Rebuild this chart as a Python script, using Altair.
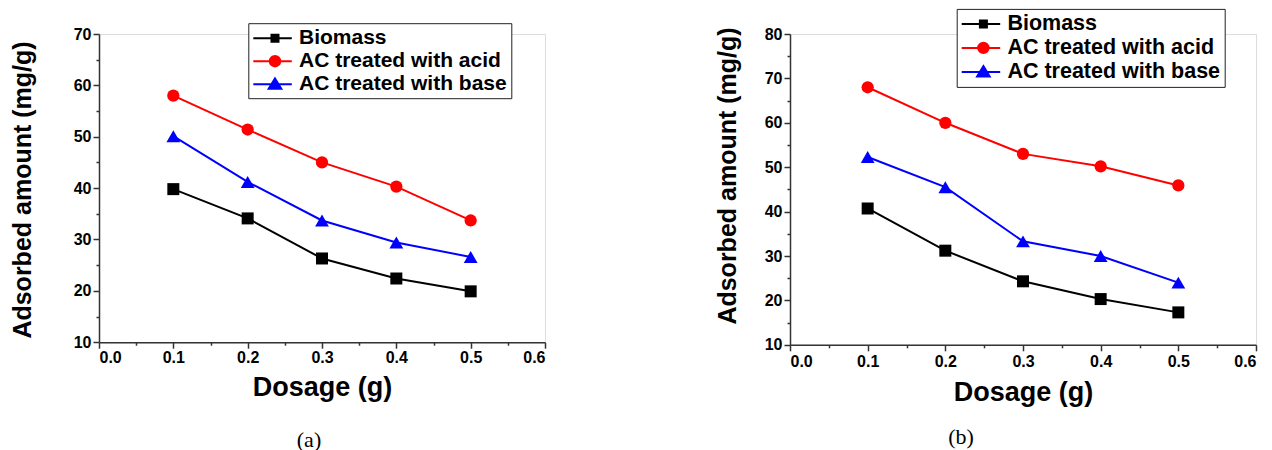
import altair as alt
import pandas as pd

# ---------------- data ----------------
dosage = [0.1, 0.2, 0.3, 0.4, 0.5]
series = ["Biomass", "AC treated with acid", "AC treated with base"]
colors = ["#000000", "#ff0000", "#0000ff"]

a_biomass = [39.8, 34.1, 26.3, 22.4, 19.9]
a_acid = [58.0, 51.4, 45.0, 40.3, 33.7]
a_base = [50.1, 41.2, 33.7, 29.4, 26.6]

b_biomass = [40.7, 31.2, 24.3, 20.3, 17.3]
b_acid = [68.0, 60.0, 53.0, 50.2, 45.9]
b_base = [52.3, 45.5, 33.3, 30.0, 24.0]

x_ticks = [0.0, 0.05, 0.1, 0.15, 0.2, 0.25, 0.3, 0.35, 0.4, 0.45, 0.5, 0.55, 0.6]
y_ticks_a = [10, 15, 20, 25, 30, 35, 40, 45, 50, 55, 60, 65, 70]
y_ticks_b = [10, 15, 20, 25, 30, 35, 40, 45, 50, 55, 60, 65, 70, 75, 80]

x_title = "Dosage (g)"
y_title = "Adsorbed amount (mg/g)"

FONT = "Liberation Sans"
AXIS_COLOR = "#333333"

# legend symbols: a short line with the marker on it
LEG_LINE = "M-1,0H2.85"
leg_shapes = [
    LEG_LINE + "M0.82,-0.35H1.52V0.35H0.82Z",
    LEG_LINE + "M1.69,0A0.52,0.52,0,1,1,0.65,0A0.52,0.52,0,1,1,1.69,0Z",
    LEG_LINE + "M1.17,-0.58L1.8,0.45H0.54Z",
]
plot_shapes = ["square", "circle", "triangle-up"]
plot_sizes = [144, 150, 190]


def make_df(b, ac, ba):
    rows = []
    for s, vals in zip(series, [b, ac, ba]):
        for d, v in zip(dosage, vals):
            rows.append({"Dosage": d, "Series": s, "Amount": v})
    return pd.DataFrame(rows)


def panel(df, yticks, width, height, lx, ly, ytx, yty, xty, lab_pad_x,
          label_size, caption, cap_dx, cap_offset):
    xmaj = "abs(datum.value*10 - round(datum.value*10)) < 0.001"
    ymaj = "datum.value % 10 == 0"
    x_axis = alt.Axis(
        values=x_ticks,
        labelExpr=f"{xmaj} ? format(datum.value, '.1f') : ''",
        tickSize={"condition": {"test": xmaj, "value": 6}, "value": 3},
        labelOverlap=False,
        labelFont=FONT, labelFontWeight="bold", labelFontSize=16,
        labelColor="black", labelPadding=lab_pad_x,
        domainColor=AXIS_COLOR, domainWidth=1.5,
        tickColor=AXIS_COLOR, tickWidth=1.5,
        grid=False,
        title=x_title, titleFont=FONT, titleFontWeight="bold",
        titleFontSize=27, titleColor="black", titleY=xty,
    )
    y_axis = alt.Axis(
        values=yticks,
        labelExpr=f"{ymaj} ? datum.label : ''",
        tickSize={"condition": {"test": ymaj, "value": 6}, "value": 3},
        labelOverlap=False,
        labelFont=FONT, labelFontWeight="bold", labelFontSize=16,
        labelColor="black", labelPadding=2,
        domainColor=AXIS_COLOR, domainWidth=1.5,
        tickColor=AXIS_COLOR, tickWidth=1.5,
        grid=False,
        title=y_title, titleFont=FONT, titleFontWeight="bold",
        titleFontSize=25, titleColor="black", titleX=ytx, titleY=yty,
    )
    xs = alt.X("Dosage:Q", scale=alt.Scale(domain=[0, 0.6], nice=False, zero=False), axis=x_axis)
    ys = alt.Y("Amount:Q", scale=alt.Scale(domain=[yticks[0], yticks[-1]], nice=False, zero=False), axis=y_axis)

    leg = alt.Legend(
        orient="none", legendX=lx, legendY=ly, title=None,
        symbolSize=400, symbolStrokeWidth=2, symbolOpacity=1,
        labelFont=FONT, labelFontWeight="bold", labelFontSize=label_size,
        labelColor="black", labelOffset=24.7, labelLimit=500,
        rowPadding=2, padding=4,
        strokeColor="#222222", fillColor="white",
    )
    base = alt.Chart(df)
    legend_layer = base.mark_point(filled=True, opacity=0, strokeWidth=2).encode(
        x=xs, y=ys,
        color=alt.Color("Series:N", scale=alt.Scale(domain=series, range=colors), legend=leg),
        stroke=alt.Stroke("Series:N", scale=alt.Scale(domain=series, range=colors), legend=leg),
        shape=alt.Shape("Series:N", scale=alt.Scale(domain=series, range=leg_shapes), legend=leg),
    )
    lines = base.mark_line(strokeWidth=2).encode(
        x=xs, y=ys,
        color=alt.Color("Series:N", scale=alt.Scale(domain=series, range=colors), legend=None),
    )
    layers = [legend_layer, lines]
    for s, shp, sz in zip(series, plot_shapes, plot_sizes):
        layers.append(
            base.transform_filter(alt.datum.Series == s)
            .mark_point(filled=True, opacity=1, shape=shp, size=sz)
            .encode(
                x=xs, y=ys,
                color=alt.Color("Series:N", scale=alt.Scale(domain=series, range=colors), legend=None),
            )
        )
    return alt.layer(*layers).properties(
        width=width, height=height,
        title=alt.TitleParams(
            caption, orient="bottom", anchor="middle", frame="group",
            font="Liberation Serif", fontSize=22, fontWeight="normal",
            color="black", offset=cap_offset, dx=cap_dx,
        ),
    )


left = panel(make_df(a_biomass, a_acid, a_base), y_ticks_a, 446, 308.2,
             149.3, -10.8, -64, 155.5, 32, 1, 21, "(a)", -13, 30)
right = panel(make_df(b_biomass, b_acid, b_base), y_ticks_b, 466, 310.8,
              166.7, -25.1, -49.5, 141.5, 34.4, 2.5, 21.5, "(b)", -62, 22)

chart = (
    alt.hconcat(left, right, spacing=167)
    .resolve_scale(color="independent", stroke="independent", shape="independent")
    .resolve_legend(color="independent", stroke="independent", shape="independent")
    .configure_view(stroke=None)
    .configure(padding={"left": 9, "top": 7, "right": 5, "bottom": 0}, background="white")
)

chart.save("out.html", embed_options={"renderer": "svg", "actions": False})
